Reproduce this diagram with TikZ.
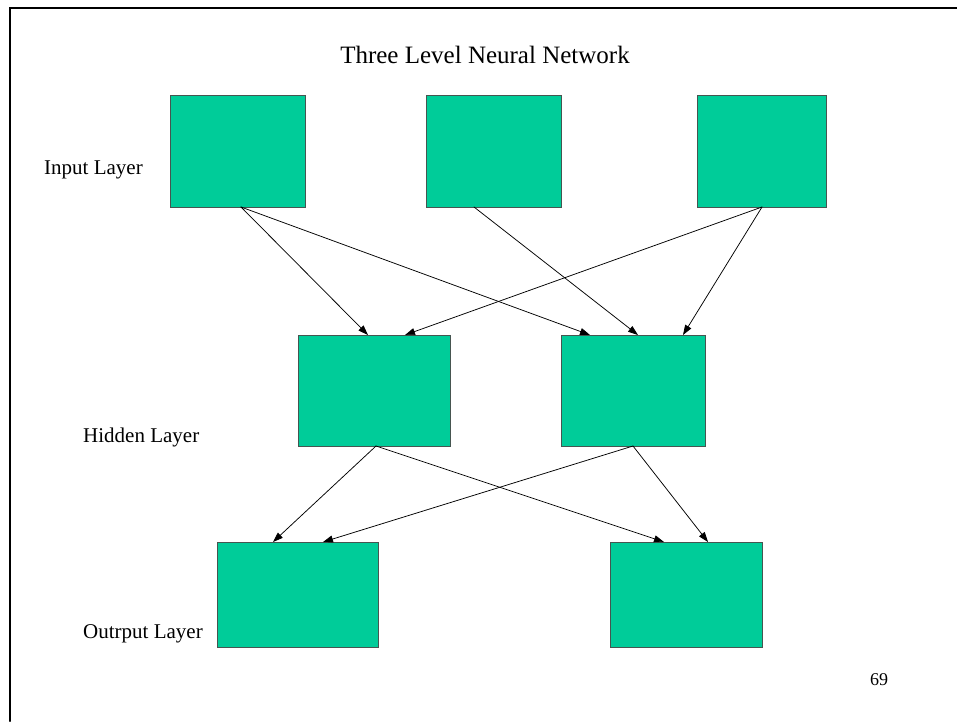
\documentclass[tikz,border=0pt]{standalone}
\usepackage{fontspec}
\setmainfont{Liberation Serif}
\usetikzlibrary{arrows.meta}
\definecolor{cellgreen}{RGB}{0,204,153}
\definecolor{celledge}{RGB}{70,85,80}
\tikzset{
  cell/.style={draw=celledge,fill=cellgreen,line width=1pt,anchor=north west,
    inner sep=0pt,outer sep=0pt},
  link/.style={line width=.75pt,-{Triangle[length=10pt,width=7pt]}},
  layer/.style={anchor=west,inner sep=0pt,font=\fontsize{21}{23}\selectfont}
}
\begin{document}
\begin{tikzpicture}[x=1pt,y=-1pt,line cap=round]
  \useasboundingbox (0,0) rectangle (957,721);
  \draw[line width=2.8pt] (10,721) -- (10,8) -- (957,8);
  \node[font=\fontsize{25}{27}\selectfont] (title) at (485,55) {Three Level Neural Network};
  % input layer
  \node[cell,minimum width=135pt,minimum height=112pt] (i1) at (170,95) {};
  \node[cell,minimum width=135pt,minimum height=112pt] (i2) at (426,95) {};
  \node[cell,minimum width=129pt,minimum height=112pt] (i3) at (697,95) {};
  % hidden layer
  \node[cell,minimum width=152pt,minimum height=111pt] (h1) at (298,335) {};
  \node[cell,minimum width=144pt,minimum height=111pt] (h2) at (561,335) {};
  % output layer
  \node[cell,minimum width=161pt,minimum height=105pt] (o1) at (217,542) {};
  \node[cell,minimum width=152pt,minimum height=105pt] (o2) at (610,542) {};
  \node[layer] (lin) at (44,170) {Input Layer};
  \node[layer] (lhid) at (83,437) {Hidden Layer};
  \node[layer] (lout) at (83,634) {Outrput Layer};
  \node[font=\fontsize{18}{20}\selectfont] (page) at (879,680) {69};
  % links
  \draw[link] ([xshift=71pt]i1.south west) -- ([xshift=70pt]h1.north west);
  \draw[link] ([xshift=71pt]i1.south west) -- ([xshift=29pt]h2.north west);
  \draw[link] ([xshift=48pt]i2.south west) -- ([xshift=77pt]h2.north west);
  \draw[link] ([xshift=65pt]i3.south west) -- ([xshift=107pt]h1.north west);
  \draw[link] ([xshift=65pt]i3.south west) -- ([xshift=122pt]h2.north west);
  \draw[link] ([xshift=78pt]h1.south west) -- ([xshift=56pt]o1.north west);
  \draw[link] ([xshift=78pt]h1.south west) -- ([xshift=54pt]o2.north west);
  \draw[link] ([xshift=72pt]h2.south west) -- ([xshift=106pt]o1.north west);
  \draw[link] ([xshift=72pt]h2.south west) -- ([xshift=98pt]o2.north west);
\end{tikzpicture}
\end{document}
